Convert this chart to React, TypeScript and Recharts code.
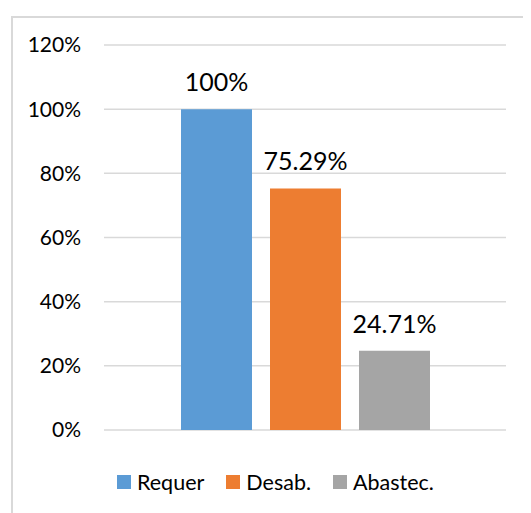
import { Bar, BarChart, CartesianGrid, LabelList, Legend, XAxis, YAxis } from 'recharts';

// Serie única por categoría: requerimiento, desabastecimiento, abastecimiento
const SERIES_NAMES = ['Requer', 'Desab.', 'Abastec.'];
const SERIES_VALUES = [1, 0.7529, 0.2471];
const SERIES_COLORS = ['#5B9BD5', '#ED7D31', '#A5A5A5'];
const Y_TICKS = [0, 0.2, 0.4, 0.6, 0.8, 1, 1.2];

const FONT = 'Lato, "Open Sans", sans-serif';

const row: Record<string, string | number> = { name: '' };
SERIES_NAMES.forEach((n, i) => {
  row[n] = SERIES_VALUES[i];
});
const data = [row];

const pct = (v: number) => `${Math.round(v * 100)}%`;
// 100% sin decimales, el resto con dos
const pctLabel = (v: any) => {
  const n = Number(v) * 100;
  return Math.abs(n - Math.round(n)) < 1e-9 ? `${Math.round(n)}%` : `${n.toFixed(2)}%`;
};

function LegendBox() {
  return (
    <div
      style={{
        height: 67,
        paddingTop: 40,
        paddingLeft: 109,
        boxSizing: 'border-box',
        display: 'flex',
        alignItems: 'flex-start',
        fontFamily: FONT,
        fontSize: 21.5,
        color: '#000',
      }}
    >
      {SERIES_NAMES.map((n, i) => (
        <div key={n} style={{ display: 'flex', alignItems: 'center', height: 24, marginRight: 22 }}>
          <span style={{ width: 14, height: 14, background: SERIES_COLORS[i], marginRight: 6, display: 'inline-block' }} />
          <span>{n}</span>
        </div>
      ))}
    </div>
  );
}

export default function App() {
  return (
    <div style={{ position: 'relative', width: 523, height: 505, overflow: 'hidden', background: '#fff' }}>
      <div
        style={{
          position: 'absolute',
          left: 3,
          top: 8,
          width: 600,
          height: 600,
          borderLeft: '2px solid #d9d9d9',
          borderTop: '2px solid #d9d9d9',
        }}
      />
      <div style={{ position: 'absolute', left: 0, top: 0 }}>
        <BarChart
          width={523}
          height={505}
          data={data}
          margin={{ top: 37, right: 25, bottom: 16, left: 0 }}
          barGap={18}
          barSize={71}
        >
          <CartesianGrid vertical={false} stroke="#d9d9d9" strokeWidth={1.5} />
          <XAxis dataKey="name" hide />
          <YAxis
            width={96}
            domain={[0, 1.2]}
            ticks={Y_TICKS}
            tickFormatter={pct}
            axisLine={false}
            tickLine={false}
            tickSize={0}
            tickMargin={23}
            tick={{ fontSize: 21, fill: '#000', fontFamily: FONT }}
          />
          <Legend verticalAlign="bottom" content={() => <LegendBox />} />
          {SERIES_NAMES.map((n, i) => (
            <Bar key={n} dataKey={n} fill={SERIES_COLORS[i]} isAnimationActive={false}>
              <LabelList
                dataKey={n}
                position="top"
                offset={18}
                formatter={pctLabel}
                style={{ fontSize: 25, fill: '#000', fontFamily: FONT }}
              />
            </Bar>
          ))}
        </BarChart>
      </div>
    </div>
  );
}
